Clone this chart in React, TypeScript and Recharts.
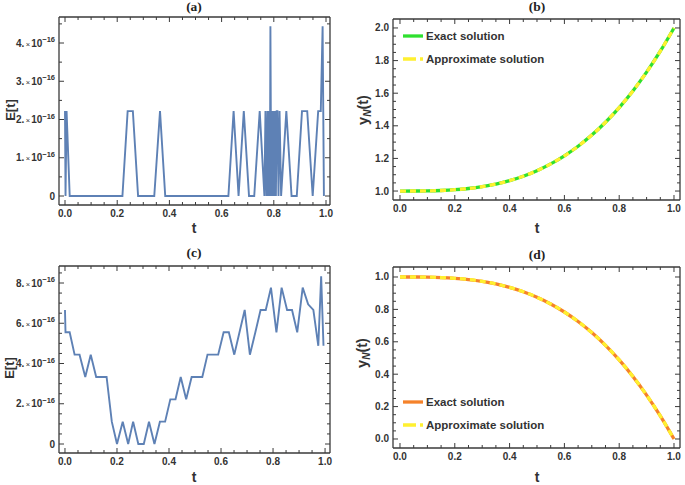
import { LineChart, Line, XAxis, YAxis, Legend } from "recharts"

// (a) absolute error, values in units of 1e-16
const tA = [0, 0.002, 0.006, 0.018, 0.22, 0.24, 0.26, 0.28, 0.342, 0.364, 0.384, 0.626, 0.646, 0.665, 0.685, 0.705, 0.725, 0.746, 0.764, 0.768, 0.772, 0.776, 0.779, 0.782, 0.785, 0.787, 0.79, 0.793, 0.796, 0.799, 0.802, 0.805, 0.808, 0.811, 0.814, 0.818, 0.822, 0.828, 0.848, 0.868, 0.888, 0.908, 0.928, 0.949, 0.97, 0.98, 0.987, 0.992]
const eA = [2.22, 0, 2.22, 0, 0, 2.22, 2.22, 0, 0, 2.22, 0, 0, 2.22, 0, 2.22, 0, 0, 2.22, 0, 2.22, 0, 2.22, 0, 2.22, 0, 4.44, 0, 2.22, 0, 2.22, 0, 2.22, 0, 2.22, 2.22, 0, 2.22, 0, 2.22, 0, 0, 2.22, 2.22, 0, 2.22, 2.22, 4.44, 0]

// (c) absolute error, units of 1e-16
const tC = [0, 0.002, 0.018, 0.037, 0.056, 0.078, 0.099, 0.12, 0.16, 0.18, 0.2, 0.222, 0.243, 0.262, 0.282, 0.303, 0.323, 0.344, 0.365, 0.385, 0.405, 0.425, 0.445, 0.466, 0.487, 0.528, 0.548, 0.589, 0.61, 0.63, 0.651, 0.671, 0.691, 0.711, 0.732, 0.752, 0.772, 0.792, 0.813, 0.833, 0.854, 0.873, 0.893, 0.914, 0.935, 0.955, 0.974, 0.985, 0.994]
const eC = [6.66, 5.55, 5.55, 4.44, 4.44, 3.33, 4.44, 3.33, 3.33, 1.11, 0, 1.11, 0, 1.11, 0, 0, 1.11, 0, 1.11, 1.11, 2.22, 2.22, 3.33, 2.22, 3.33, 3.33, 4.44, 4.44, 5.55, 5.55, 4.44, 5.55, 6.66, 4.44, 5.55, 6.66, 6.66, 7.77, 5.55, 7.77, 6.66, 6.66, 5.55, 7.77, 6.94, 6.66, 4.88, 8.33, 4.88]

// (b), (d) exact vs approximate solutions
const tCurve = [0, 0.05, 0.1, 0.15, 0.2, 0.25, 0.3, 0.35, 0.4, 0.45, 0.5, 0.55, 0.6, 0.65, 0.7, 0.75, 0.8, 0.85, 0.9, 0.95, 1]
const exactB = [1, 1.0001, 1.001, 1.0034, 1.008, 1.0156, 1.027, 1.0429, 1.064, 1.0911, 1.125, 1.1664, 1.216, 1.2746, 1.343, 1.4219, 1.512, 1.6141, 1.729, 1.8574, 2]
const approxB = [1, 1.0001, 1.001, 1.0034, 1.008, 1.0156, 1.027, 1.0429, 1.064, 1.0911, 1.125, 1.1664, 1.216, 1.2746, 1.343, 1.4219, 1.512, 1.6141, 1.729, 1.8574, 2]
const exactD = [1, 0.9999, 0.999, 0.9966, 0.992, 0.9844, 0.973, 0.9571, 0.936, 0.9089, 0.875, 0.8336, 0.784, 0.7254, 0.657, 0.5781, 0.488, 0.3859, 0.271, 0.1426, 0]
const approxD = [1, 0.9999, 0.999, 0.9966, 0.992, 0.9844, 0.973, 0.9571, 0.936, 0.9089, 0.875, 0.8336, 0.784, 0.7254, 0.657, 0.5781, 0.488, 0.3859, 0.271, 0.1426, 0]

const xMajor = [0, 0.2, 0.4, 0.6, 0.8, 1]
const yMajorA = [0, 1, 2, 3, 4]
const yMajorB = [1, 1.2, 1.4, 1.6, 1.8, 2]
const yMajorC = [0, 2, 4, 6, 8]
const yMajorD = [0, 0.2, 0.4, 0.6, 0.8, 1]

const range = (a: number, b: number, s: number) =>
  Array.from({ length: Math.round((b - a) / s) + 1 }, (_, i) => +(a + i * s).toFixed(4))

const FRAME = "#3a3a3a"
const SANS = "'Liberation Sans', Arial, sans-serif"
const SERIF = "'Liberation Serif', 'Times New Roman', serif"
const BLUE = "#5e81b5"
const TICK_FS = 10

function isMajor(v: number, majors: number[]) {
  return majors.some((m) => Math.abs(m - v) < 1e-6)
}

function Tick(props: any) {
  const { x, y, payload, side, majors, fmt } = props
  const v = payload.value
  const major = isMajor(v, majors)
  const len = major ? 5 : 3
  let line
  if (side === "bottom") line = <line x1={x} x2={x} y1={y} y2={y - len} />
  else if (side === "top") line = <line x1={x} x2={x} y1={y} y2={y + len} />
  else if (side === "left") line = <line x1={x} x2={x + len} y1={y} y2={y} />
  else line = <line x1={x} x2={x - len} y1={y} y2={y} />
  let label = null
  if (major && side === "bottom") {
    label = (
      <text x={x} y={y + 11.5} textAnchor="middle" fontSize={TICK_FS} fontWeight="bold" fill="#333" fontFamily={SANS}>
        {v.toFixed(1)}
      </text>
    )
  } else if (major && side === "left") {
    label =
      fmt === "sci" && v !== 0 ? (
        <text x={x - 4} y={y + 3.5} textAnchor="end" fontSize={TICK_FS} fontWeight="bold" fill="#333" fontFamily={SANS}>
          <tspan>{`${v}.`}</tspan>
          <tspan fontSize={7.5} fontWeight="normal" dx={1.5}>×</tspan>
          <tspan dx={1}>10</tspan>
          <tspan fontSize={7.5} dy={-4.5}>−16</tspan>
        </text>
      ) : (
        <text x={x - 4} y={y + 3.5} textAnchor="end" fontSize={TICK_FS} fontWeight="bold" fill="#333" fontFamily={SANS}>
          {fmt === "sci" ? "0" : v.toFixed(1)}
        </text>
      )
  }
  return (
    <g>
      <g stroke={FRAME} strokeWidth={1}>{line}</g>
      {label}
    </g>
  )
}

type Series = { key: string; name: string; color: string; width: number; dash?: string; curve: "linear" | "monotone" }

function LegendBox({ items }: { items: Series[] }) {
  return (
    <div style={{ fontFamily: SANS, fontWeight: "bold", fontSize: 11.5, color: "#333" }}>
      {items.map((it) => (
        <div key={it.key} style={{ display: "flex", alignItems: "center", height: 22.5 }}>
          <svg width={20} height={6}>
            <line x1={0} x2={20} y1={3} y2={3} stroke={it.color} strokeWidth={3.3} strokeDasharray={it.dash ? "13 4" : undefined} />
          </svg>
          <span style={{ marginLeft: 3 }}>{it.name}</span>
        </div>
      ))}
    </div>
  )
}

function Panel(p: any) {
  const { box, plot, data, series, xDomain, yDomain, yMajor, yStep, fmt, title, titlePos, ylabel, ylabelPos, xlabelPos, legendPos } = p
  const W = box.w
  const H = box.h
  const xTicks = range(0, 1, 0.05)
  const yTicks = range(yMajor[0], yMajor[yMajor.length - 1] + (fmt === "sci" ? 0.5 : 0), yStep)
  const axisLine = { stroke: FRAME, strokeWidth: 1.3 }
  const common = { tickSize: 0, tickMargin: 0, tickLine: false, axisLine, allowDataOverflow: true, interval: 0 as const }
  return (
    <div style={{ position: "absolute", left: box.x, top: box.y, width: W, height: H }}>
      <LineChart width={W} height={H} data={data} margin={{ top: plot.t - 1, right: W - plot.r - 1, bottom: 0, left: 0 }}>
        <XAxis xAxisId="b" dataKey="t" type="number" domain={xDomain} ticks={xTicks} orientation="bottom" height={H - plot.b} {...common} tick={<Tick side="bottom" majors={xMajor} />} />
        <XAxis xAxisId="top" dataKey="t" type="number" domain={xDomain} ticks={xTicks} orientation="top" height={1} {...common} tick={<Tick side="top" majors={xMajor} />} />
        <YAxis yAxisId="l" type="number" domain={yDomain} ticks={yTicks} width={plot.l} {...common} tick={<Tick side="left" majors={yMajor} fmt={fmt} />} />
        <YAxis yAxisId="r" type="number" orientation="right" domain={yDomain} ticks={yTicks} width={1} {...common} tick={<Tick side="right" majors={yMajor} />} />
        {series.map((s: Series) => (
          <Line key={s.key} xAxisId="b" yAxisId="l" type={s.curve} dataKey={s.key} name={s.name} stroke={s.color} strokeWidth={s.width} strokeDasharray={s.dash} dot={false} isAnimationActive={false} />
        ))}
        {legendPos && (
          <Legend layout="vertical" align="center" verticalAlign="middle" wrapperStyle={{ left: legendPos.x, top: legendPos.y, width: "auto" }} content={() => <LegendBox items={series} />} />
        )}
      </LineChart>
      <div style={{ position: "absolute", left: titlePos.x, top: titlePos.y, transform: "translate(-50%,-50%)", fontFamily: SERIF, fontWeight: "bold", fontSize: 13.5, color: "#222", whiteSpace: "nowrap" }}>{title}</div>
      <div style={{ position: "absolute", left: xlabelPos.x, top: xlabelPos.y, transform: "translate(-50%,-50%)", fontFamily: SANS, fontWeight: "bold", fontSize: 14, lineHeight: "14px", color: "#333" }}>t</div>
      <div style={{ position: "absolute", left: ylabelPos.x, top: ylabelPos.y, transform: "translate(-50%,-50%) rotate(-90deg)", fontFamily: SANS, fontWeight: "bold", fontSize: ylabel === "E[t]" ? 13 : 14.5, color: "#333", whiteSpace: "nowrap" }}>
        {ylabel === "E[t]" ? (
          "E[t]"
        ) : (
          <span>
            y<sub style={{ fontStyle: "italic", fontSize: 10 }}>N</sub>(t)
          </span>
        )}
      </div>
    </div>
  )
}

const dataA = tA.map((t, i) => ({ t, e: eA[i] }))
const dataC = tC.map((t, i) => ({ t, e: eC[i] }))
const dataB = tCurve.map((t, i) => ({ t, exact: exactB[i], approx: approxB[i] }))
const dataD = tCurve.map((t, i) => ({ t, exact: exactD[i], approx: approxD[i] }))

const errSeries: Series[] = [{ key: "e", name: "E[t]", color: BLUE, width: 1.9, curve: "linear" }]
const seriesB: Series[] = [
  { key: "exact", name: "Exact solution", color: "#2fe02f", width: 3.3, curve: "monotone" },
  { key: "approx", name: "Approximate solution", color: "#fff030", width: 3.3, dash: "6 4", curve: "monotone" },
]
const seriesD: Series[] = [
  { key: "exact", name: "Exact solution", color: "#f5822a", width: 3.3, curve: "monotone" },
  { key: "approx", name: "Approximate solution", color: "#fff030", width: 3.3, dash: "6 4", curve: "monotone" },
]

export default function App() {
  return (
    <div style={{ position: "absolute", left: 0, top: 0, width: 685, height: 485, background: "#fff", overflow: "hidden" }}>
      <Panel
        box={{ x: 0, y: 0, w: 340, h: 235 }}
        plot={{ l: 59, r: 330, t: 17, b: 205 }}
        data={dataA}
        series={errSeries}
        xDomain={[-0.023, 1.0153]}
        yDomain={[-0.235, 4.68]}
        yMajor={yMajorA}
        yStep={0.5}
        fmt="sci"
        title="(a)"
        titlePos={{ x: 194, y: 7 }}
        ylabel="E[t]"
        ylabelPos={{ x: 10, y: 110 }}
        xlabelPos={{ x: 194, y: 228 }}
      />
      <Panel
        box={{ x: 340, y: 0, w: 345, h: 235 }}
        plot={{ l: 53, r: 340, t: 19, b: 200 }}
        data={dataB}
        series={seriesB}
        xDomain={[-0.0255, 1.0219]}
        yDomain={[0.945, 2.055]}
        yMajor={yMajorB}
        yStep={0.05}
        fmt="dec"
        title="(b)"
        titlePos={{ x: 197, y: 7 }}
        ylabel="yN"
        ylabelPos={{ x: 24, y: 110 }}
        xlabelPos={{ x: 197, y: 228 }}
        legendPos={{ x: 63, y: 25 }}
      />
      <Panel
        box={{ x: 0, y: 235, w: 340, h: 250 }}
        plot={{ l: 59, r: 330, t: 31, b: 218 }}
        data={dataC}
        series={errSeries}
        xDomain={[-0.023, 1.019]}
        yDomain={[-0.447, 8.845]}
        yMajor={yMajorC}
        yStep={0.5}
        fmt="sci"
        title="(c)"
        titlePos={{ x: 194, y: 18 }}
        ylabel="E[t]"
        ylabelPos={{ x: 9, y: 133 }}
        xlabelPos={{ x: 194, y: 242 }}
      />
      <Panel
        box={{ x: 340, y: 235, w: 345, h: 250 }}
        plot={{ l: 53, r: 340, t: 32, b: 213 }}
        data={dataD}
        series={seriesD}
        xDomain={[-0.0255, 1.0219]}
        yDomain={[-0.0556, 1.0617]}
        yMajor={yMajorD}
        yStep={0.05}
        fmt="dec"
        title="(d)"
        titlePos={{ x: 197, y: 20 }}
        ylabel="yN"
        ylabelPos={{ x: 23, y: 118 }}
        xlabelPos={{ x: 197, y: 242 }}
        legendPos={{ x: 63, y: 156 }}
      />
    </div>
  )
}
